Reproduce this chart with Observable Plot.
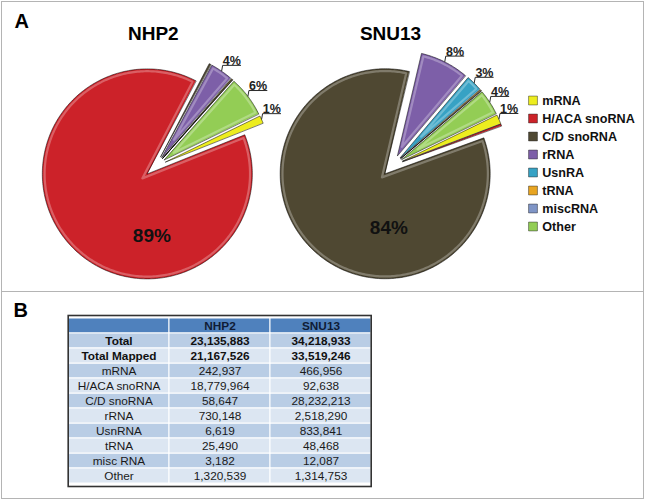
<!DOCTYPE html>
<html><head><meta charset="utf-8">
<script src="https://cdn.jsdelivr.net/npm/d3@7"></script>
<script src="https://cdn.jsdelivr.net/npm/@observablehq/plot@0.6"></script>
<style>
html,body{margin:0;padding:0;background:#fff;}
#fig{position:relative;width:646px;height:500px;font-family:"Liberation Sans",Arial,sans-serif;overflow:hidden;background:#fff;}
.border{position:absolute;left:1px;top:0.5px;width:641px;height:496.5px;border:1.5px solid #b4b4b4;}
.divider{position:absolute;left:1px;top:290.5px;width:643px;height:0;border-top:1.5px solid #b4b4b4;}
.panel{position:absolute;font-weight:bold;font-size:20px;line-height:20px;color:#000;}
.title{position:absolute;font-weight:bold;font-size:19px;line-height:19px;color:#000;transform:translateX(-50%);white-space:nowrap;}
</style></head><body><div id="fig"></div>
<script>
// ---------- data ----------
const categories = ["mRNA","H/ACA snoRNA","C/D snoRNA","rRNA","UsnRNA","tRNA","misc RNA","Other"];
const legendLabels = ["mRNA","H/ACA snoRNA","C/D snoRNA","rRNA","UsnRA","tRNA","miscRNA","Other"];
const sliceColors = ["#eded1f","#cc2229","#4f4832","#7d5fa8","#37a2c4","#e8a522","#7f95c6","#93cd55"];
const samples = ["NHP2","SNU13"];
const nhp2Reads = [242937,18779964,58647,730148,6619,25490,3182,1320539];
const snu13Reads = [466956,92638,28232213,2518290,833841,48468,12087,1314753];
const nhp2Labels = ["1%","89%","","4%","","","","6%"];
const snu13Labels = ["1%","","84%","8%","3%","","","4%"];
const totalReads = [23135883,34218933];
const totalMapped = [21167526,33519246];
const tableRowLabels = ["Total","Total Mapped","mRNA","H/ACA snoRNA","C/D snoRNA","rRNA","UsnRNA","tRNA","misc RNA","Other"];

// ---------- layout ----------
const FONT = "Liberation Sans, Arial, sans-serif";
const SIZE = 270, HALF = 1.2857;           // 105 px per unit radius
const START = 64 * Math.PI / 180;          // first slice angle
const EXPLODE = 0.105;
const BEVEL = 0.022;
const fig = document.getElementById("fig");
function addDiv(cls, text, css) {
  const d = document.createElement("div");
  d.className = cls; d.textContent = text; Object.assign(d.style, css); fig.appendChild(d); return d;
}
function place(node, left, top) {
  node.style.position = "absolute"; node.style.left = left + "px"; node.style.top = top + "px"; fig.appendChild(node);
}

addDiv("border", "", {});
addDiv("divider", "", {});
addDiv("panel", "A", {left: "14.5px", top: "11px"});
addDiv("panel", "B", {left: "13.5px", top: "299.5px"});

// ---------- pies ----------
function piePlot(values, labels, innerY) {
  const total = d3.sum(values);
  const arcs = d3.pie().sort(null).startAngle(START).endAngle(START + 2 * Math.PI)(values);
  const polys = [], rims = [], leaders = [], small = [], big = [];
  arcs.forEach((a, i) => {
    const a0 = a.startAngle, a1 = a.endAngle;
    const mid = (a0 + a1) / 2, half = (a1 - a0) / 2;
    const ox = EXPLODE * Math.sin(mid), oy = EXPLODE * Math.cos(mid);
    const n = Math.max(2, Math.ceil((a1 - a0) / (Math.PI / 180)));
    polys.push({key: i, cat: categories[i], x: ox, y: oy});
    for (let k = 0; k <= n; k++) {
      const t = a0 + (a1 - a0) * k / n;
      polys.push({key: i, cat: categories[i], x: ox + Math.sin(t), y: oy + Math.cos(t)});
    }
    if (half > 3 * Math.PI / 180) {
      const s = BEVEL / Math.sin(half);
      const r = 1 - BEVEL, da = BEVEL / r * 1.1;
      rims.push({key: i, x: ox + s * Math.sin(mid), y: oy + s * Math.cos(mid)});
      for (let k = 0; k <= n; k++) {
        const t = (a0 + da) + (a1 - a0 - 2 * da) * k / n;
        rims.push({key: i, x: ox + r * Math.sin(t), y: oy + r * Math.cos(t)});
      }
    }
    if (!labels[i]) return;
    if (values[i] / total > 0.5) {
      big.push({x: -0.035, y: innerY, text: labels[i]});
    } else {
      const px = ox + Math.sin(mid), py = oy + Math.cos(mid);
      const ax = px + 0.01, ay = py + 0.055;
      leaders.push({key: i, x: px, y: py}, {key: i, x: ax, y: ay}, {key: i, x: ax + 0.175, y: ay});
      small.push({x: ax + 0.0875, y: ay, text: labels[i]});
    }
  });
  return Plot.plot({
    width: SIZE, height: SIZE, margin: 0,
    x: {domain: [-HALF, HALF], axis: null},
    y: {domain: [-HALF, HALF], axis: null},
    color: {domain: categories, range: sliceColors},
    style: {background: "transparent", overflow: "visible", fontFamily: FONT},
    marks: [
      Plot.line(polys, {x: "x", y: "y", z: "key", fill: "cat", stroke: "rgba(0,0,0,0.5)", strokeWidth: 1, curve: "linear-closed"}),
      Plot.line(rims, {x: "x", y: "y", z: "key", stroke: "rgba(255,255,255,0.28)", strokeWidth: 2.2, curve: "linear-closed"}),
      Plot.line(leaders, {x: "x", y: "y", z: "key", stroke: "#2a2a2a", strokeWidth: 1, strokeLinecap: "butt"}),
      Plot.text(small, {x: "x", y: "y", text: "text", fontSize: 12.5, fontWeight: "bold", fill: "#222", lineAnchor: "bottom", dy: -0.5}),
      Plot.text(big, {x: "x", y: "y", text: "text", fontSize: 19, fontWeight: "bold", fill: "#111"})
    ]
  });
}

place(piePlot(nhp2Reads, nhp2Labels, -0.66), 155.2 - SIZE / 2, 165.6 - SIZE / 2);
place(piePlot(snu13Reads, snu13Labels, -0.59), 392.3 - SIZE / 2, 164.7 - SIZE / 2);
addDiv("title", samples[0], {left: "153.3px", top: "23.7px"});
addDiv("title", samples[1], {left: "390.5px", top: "23.7px"});

// ---------- legend ----------
const legend = Plot.plot({
  width: 122, height: 155, margin: 0,
  y: {type: "point", domain: legendLabels, range: [12.7, 142.7], padding: 0, axis: null},
  color: {domain: legendLabels, range: sliceColors},
  style: {background: "transparent", overflow: "visible", fontFamily: FONT},
  marks: [
    Plot.dot(legendLabels, {y: d => d, fill: d => d, symbol: "square", r: 5, frameAnchor: "left", dx: 10.5, stroke: "rgba(0,0,0,0.5)", strokeWidth: 0.8}),
    Plot.text(legendLabels, {y: d => d, text: d => d, frameAnchor: "left", dx: 19.7, textAnchor: "start", fontSize: 12.6, fontWeight: "bold", fill: "#111"})
  ]
});
place(legend, 522, 85);

// ---------- table ----------
const columns = ["label", samples[0], samples[1]];
const rowsDomain = ["header", ...tableRowLabels];
const fmt = d3.format(",");
const colValues = [
  [totalReads[0], totalMapped[0], ...nhp2Reads],
  [totalReads[1], totalMapped[1], ...snu13Reads]
];
const cells = [];
tableRowLabels.forEach((r, i) => {
  cells.push({row: r, col: "label", text: r, i});
  cells.push({row: r, col: samples[0], text: fmt(colValues[0][i]), i});
  cells.push({row: r, col: samples[1], text: fmt(colValues[1][i]), i});
});
const header = [{row: "header", col: "label", text: ""}, {row: "header", col: samples[0], text: samples[0]}, {row: "header", col: samples[1], text: samples[1]}];
const table = Plot.plot({
  width: 310, height: 176,
  marginLeft: 1.7, marginTop: 2, marginRight: 5.3, marginBottom: 3,
  x: {type: "band", domain: columns, padding: 0, axis: null},
  y: {type: "band", domain: rowsDomain, padding: 0, axis: null},
  style: {background: "transparent", overflow: "visible", fontFamily: FONT},
  marks: [
    Plot.cell(header, {x: "col", y: "row", fill: "#4f81bd", stroke: "white", strokeWidth: 1, inset: 0}),
    Plot.cell(cells.filter(d => d.i % 2 === 0), {x: "col", y: "row", fill: "#b9cde5", stroke: "white", strokeWidth: 1, inset: 0}),
    Plot.cell(cells.filter(d => d.i % 2 === 1), {x: "col", y: "row", fill: "#dce6f2", stroke: "white", strokeWidth: 1, inset: 0}),
    Plot.text(header, {x: "col", y: "row", text: "text", fontSize: 11.8, fontWeight: "bold", fill: "#0f1c36"}),
    Plot.text(cells.filter(d => d.i < 2), {x: "col", y: "row", text: "text", fontSize: 11.8, fontWeight: "bold", fill: "#111"}),
    Plot.text(cells.filter(d => d.i >= 2), {x: "col", y: "row", text: "text", fontSize: 11.8, fill: "#1a1a1a"}),
    Plot.frame({stroke: "#333", strokeWidth: 1.6})
  ]
});
place(table, 66, 313);
</script>
</body></html>
